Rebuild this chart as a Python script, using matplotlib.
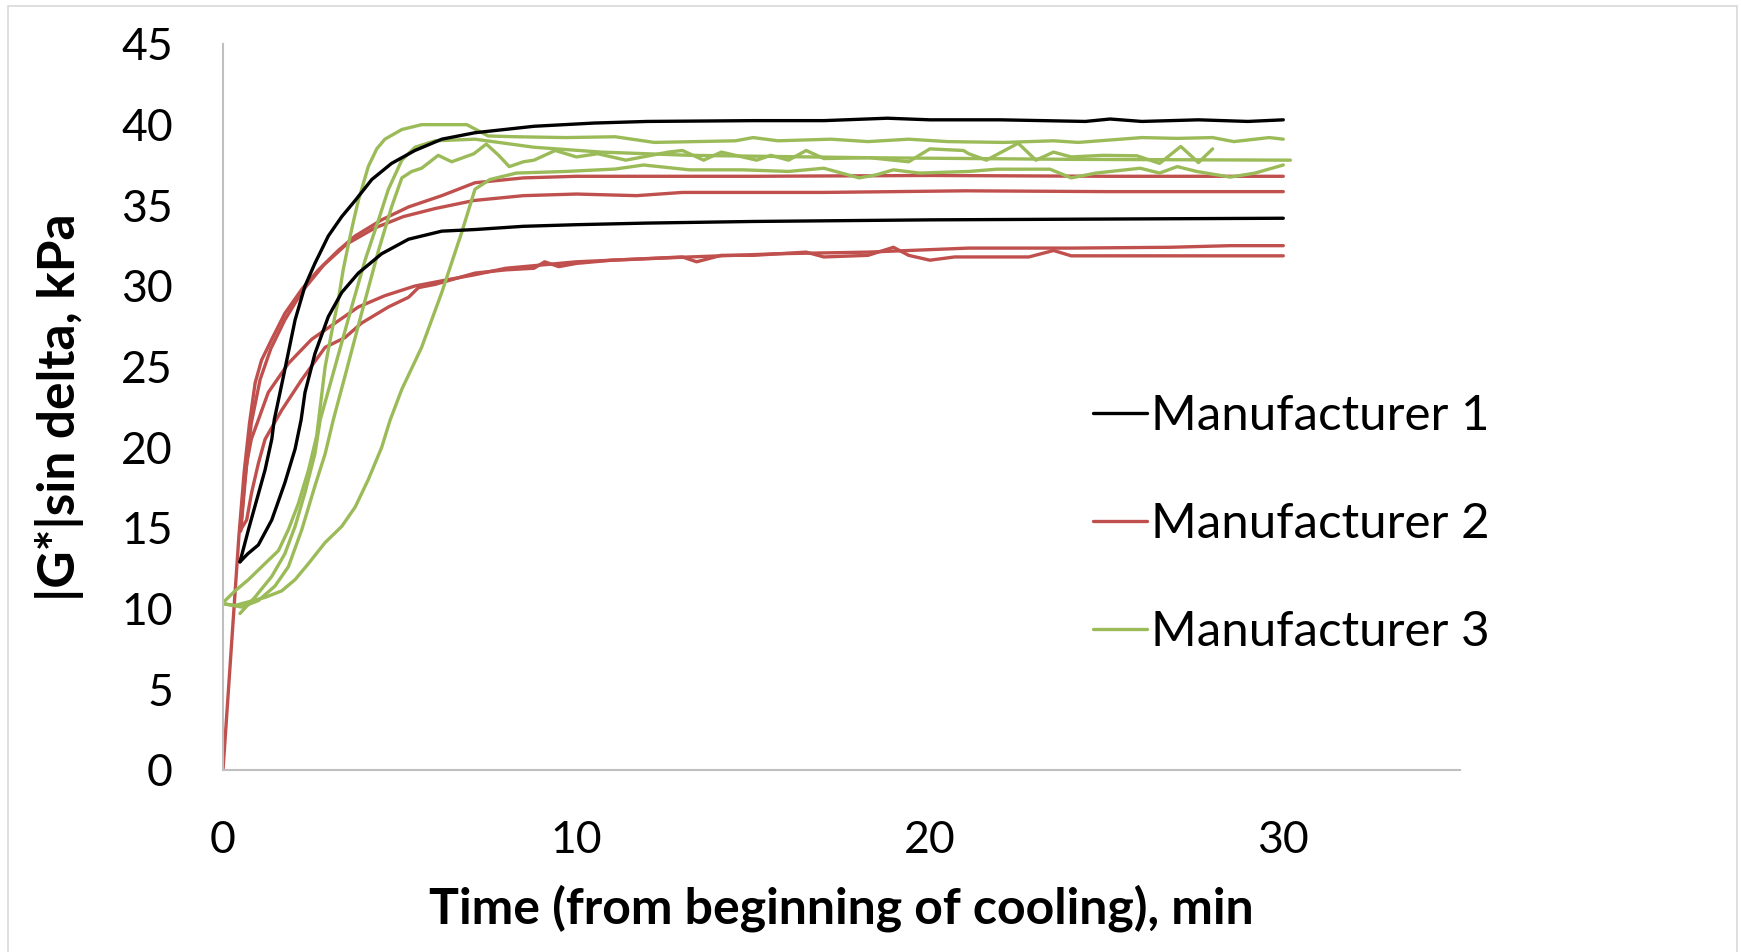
import matplotlib
matplotlib.use("Agg")
import matplotlib.pyplot as plt
from matplotlib.patches import Rectangle

# |G*|sin(delta) during cooling, three manufacturers, replicate runs each
m1a_t = [0.48, 0.72, 1.19, 1.38, 1.45, 1.71, 2.04, 2.32, 2.60, 2.98, 3.36, 3.74, 4.21, 4.77,
         5.43, 6.19, 7.13, 8.8, 10.5, 12, 15, 17, 18.8, 20, 22, 24.4, 25.1, 26, 27.6, 29, 30]
m1a_v = [12.9, 14.9, 18.6, 20.5, 21.7, 24.4, 27.9, 30.0, 31.4, 33.1, 34.3, 35.3, 36.6, 37.6,
         38.4, 39.1, 39.5, 39.9, 40.1, 40.2, 40.25, 40.25, 40.4, 40.3, 40.3, 40.2, 40.35, 40.2,
         40.3, 40.2, 40.3]

m1b_t = [0.48, 0.7, 1.0, 1.38, 1.75, 2.04, 2.21, 2.32, 2.6, 2.98, 3.36, 3.83, 4.49, 5.25, 6.19,
         7.13, 8.5, 10, 12, 15, 20, 25, 30]
m1b_v = [12.9, 13.4, 13.95, 15.5, 17.8, 19.9, 21.7, 23.4, 25.8, 28.1, 29.6, 30.8, 32.0, 32.9,
         33.4, 33.5, 33.7, 33.8, 33.9, 34.0, 34.1, 34.15, 34.2]

m2a_t = [0, 0.45, 0.6, 0.75, 0.91, 1.09, 1.38, 1.75, 2.23, 2.7, 3.26, 3.74, 4.49, 5.25, 6.19,
         7.13, 8.5, 10, 15, 20, 25, 30]
m2a_v = [0, 14.5, 18.5, 21.5, 24.0, 25.4, 26.7, 28.3, 29.8, 31.0, 32.2, 33.1, 34.1, 34.9, 35.6,
         36.4, 36.7, 36.8, 36.8, 36.85, 36.8, 36.8]

m2b_t = [0.5, 0.65, 0.8, 1.05, 1.35, 1.75, 2.25, 2.85, 3.5, 4.3, 5.1, 6.0, 7.1, 8.5, 10, 11.7,
         13, 17, 21, 25, 30]
m2b_v = [14.8, 18.5, 21.5, 24.2, 26.1, 27.9, 29.7, 31.3, 32.6, 33.6, 34.3, 34.8, 35.3, 35.6,
         35.7, 35.6, 35.8, 35.8, 35.9, 35.85, 35.85]

m2c_t = [0.5, 0.6, 0.67, 0.8, 1.0, 1.28, 1.85, 2.51, 3.17, 3.83, 4.58, 5.43, 6.38, 7.13, 8, 9,
         10, 11, 13.2, 15.7, 18.25, 21.1, 24, 26.8, 28.5, 30]
m2c_v = [14.9, 17.6, 19.0, 20.5, 21.7, 23.4, 25.2, 26.7, 27.7, 28.7, 29.4, 30.0, 30.4, 30.7,
         31.1, 31.3, 31.5, 31.6, 31.8, 32.0, 32.1, 32.35, 32.35, 32.4, 32.5, 32.5]

m2d_t = [0.5, 0.67, 0.81, 1.0, 1.19, 1.66, 2.23, 2.89, 3.45, 3.92, 4.68, 5.25, 5.53, 6.0, 7.13,
         8, 8.8, 9.1, 9.5, 10, 11, 12, 13, 13.4, 14.1, 15, 16.5, 17, 18.25, 18.97, 19.4, 20.0,
         20.7, 22.8, 23.5, 24.0, 26, 28, 30]
m2d_v = [14.9, 15.5, 17.2, 19.0, 20.5, 22.3, 24.2, 26.2, 26.8, 27.7, 28.7, 29.3, 29.9, 30.1,
         30.8, 31.0, 31.1, 31.5, 31.2, 31.4, 31.6, 31.7, 31.8, 31.5, 31.9, 31.9, 32.1, 31.8,
         31.9, 32.4, 31.9, 31.6, 31.8, 31.8, 32.2, 31.87, 31.87, 31.87, 31.87]

m3a_t = [0.06, 0.34, 0.72, 1.19, 1.57, 1.85, 2.13, 2.42, 2.65, 2.89, 3.08, 3.26, 3.4, 3.55, 3.7,
         3.83, 4.11, 4.35, 4.58, 5.06, 5.62, 6.19, 6.9, 7.5, 8.3, 9.7, 11.1, 12.2, 14.5, 15.0,
         15.7, 17.2, 18.25, 19.4, 20.5, 22.1, 23.5, 24.2, 26.0, 27.0, 28.0, 28.6, 29.6, 30]
m3a_v = [10.5, 11.1, 11.8, 12.8, 13.6, 14.9, 16.5, 18.6, 20.7, 25.0, 27.2, 29.1, 31.0, 32.6,
         34.1, 35.3, 37.4, 38.5, 39.1, 39.7, 40.0, 40.0, 40.0, 39.3, 39.25, 39.2, 39.25, 38.9,
         39.0, 39.2, 39.0, 39.1, 38.95, 39.1, 38.95, 38.9, 39.0, 38.9, 39.2, 39.15, 39.2, 38.95,
         39.2, 39.1]

m3b_t = [0.48, 0.9, 1.38, 1.75, 2.04, 2.32, 2.6, 2.75, 3.17, 3.64, 4.02, 4.4, 4.68, 5.06, 5.43,
         6.0, 7.13, 7.8, 8.8, 10.7, 13.2, 18.3, 24, 30.2]
m3b_v = [9.7, 10.7, 12.0, 13.4, 15.1, 17.2, 19.6, 21.7, 25.0, 28.7, 31.6, 34.1, 36.0, 37.8,
         38.6, 39.0, 39.1, 38.9, 38.6, 38.3, 38.1, 37.95, 37.85, 37.8]

m3c_t = [0.03, 0.53, 1.0, 1.47, 1.85, 2.23, 2.6, 2.89, 3.12, 3.45, 3.92, 4.4, 4.77, 5.06, 5.34,
         5.62, 6.09, 6.47, 7.1, 7.45, 7.8, 8.1, 8.5, 8.8, 9.4, 10.0, 10.6, 11.4, 12.6, 13.0,
         13.6, 14.1, 15.1, 15.5, 16.0, 16.5, 17.0, 18.3, 19.4, 20.0, 20.95, 21.1, 21.6, 22.5,
         23.0, 23.5, 24.0, 24.9, 25.86, 26.5, 27.1, 27.6, 28.0]
m3c_v = [10.3, 10.1, 10.5, 11.4, 12.6, 14.9, 17.6, 19.6, 21.7, 24.4, 28.3, 32.2, 34.9, 36.7,
         37.1, 37.3, 38.1, 37.7, 38.2, 38.8, 38.1, 37.4, 37.7, 37.8, 38.4, 38.0, 38.2, 37.8,
         38.3, 38.4, 37.8, 38.3, 37.8, 38.1, 37.8, 38.4, 37.9, 37.95, 37.7, 38.5, 38.4, 38.2,
         37.8, 38.85, 37.8, 38.3, 38.0, 38.1, 38.07, 37.6, 38.65, 37.65, 38.5]

m3d_t = [0.03, 0.34, 1.19, 1.66, 2.04, 2.42, 2.89, 3.36, 3.74, 4.11, 4.49, 4.73, 5.06, 5.62,
         6.19, 6.75, 7.13, 7.55, 8.3, 9.7, 11.1, 11.9, 13.2, 14.7, 16.0, 17.0, 18.0, 18.5,
         18.97, 19.7, 21.1, 21.9, 23.4, 24.0, 24.7, 25.95, 26.5, 27.0, 27.55, 28.5, 29.2, 30.0]
m3d_v = [10.3, 10.2, 10.7, 11.1, 11.8, 12.8, 14.1, 15.1, 16.3, 18.0, 20.0, 21.7, 23.6, 26.2,
         29.6, 33.3, 36.0, 36.6, 37.0, 37.1, 37.25, 37.5, 37.2, 37.2, 37.1, 37.3, 36.7, 36.9,
         37.2, 37.0, 37.1, 37.24, 37.24, 36.7, 37.0, 37.3, 37.0, 37.4, 37.1, 36.75, 37.0, 37.5]

series = {
    "Manufacturer 1": [(m1a_t, m1a_v), (m1b_t, m1b_v)],
    "Manufacturer 2": [(m2a_t, m2a_v), (m2b_t, m2b_v), (m2c_t, m2c_v), (m2d_t, m2d_v)],
    "Manufacturer 3": [(m3a_t, m3a_v), (m3b_t, m3b_v), (m3c_t, m3c_v), (m3d_t, m3d_v)],
}
colors = {"Manufacturer 1": "#000000", "Manufacturer 2": "#C0504D", "Manufacturer 3": "#9BBB59"}

x_ticks = [0, 10, 20, 30]
y_ticks = list(range(0, 46, 5))

plt.rcParams["font.family"] = ["Lato", "DejaVu Sans"]

W, H = 1741, 952
fig = plt.figure(figsize=(W / 100, H / 100), dpi=100)
ax = fig.add_axes([223 / W, 1 - 770 / H, (1460 - 223) / W, (770 - 44) / H])

# light outer frame around the chart area
fig.patches.append(Rectangle((8 / W, -0.01), (1737 - 8) / W, 1.01 - 6 / H,
                             transform=fig.transFigure, fill=False,
                             ec="#D9D9D9", lw=1.2, zorder=0))

# Manufacturer 2 first, then 3, black on top
for name in ["Manufacturer 2", "Manufacturer 3", "Manufacturer 1"]:
    for i, (t, v) in enumerate(series[name]):
        ax.plot(t, v, color=colors[name], lw=2.4, solid_capstyle="round",
                solid_joinstyle="round", label=name if i == 0 else None)

ax.set_xlim(0, 35)
ax.set_ylim(0, 45)
ax.set_xticks(x_ticks)
ax.set_yticks(y_ticks)
for s in ["top", "right"]:
    ax.spines[s].set_visible(False)
for s in ["left", "bottom"]:
    ax.spines[s].set_color("#BFBFBF")
    ax.spines[s].set_linewidth(1.5)
ax.tick_params(length=0, labelsize=32, pad=36)

ax.set_xlabel("Time (from beginning of cooling), min", fontsize=36, fontweight="bold",
              va="top")
ax.xaxis.set_label_coords(0.5, (770 - 884) / 726)
ax.set_ylabel("|G*|sin delta, kPa", fontsize=37, fontweight="bold")
ax.yaxis.set_label_coords((84 - 223) / 1237, 0.5)

handles, labels = ax.get_legend_handles_labels()
order = [labels.index(n) for n in ["Manufacturer 1", "Manufacturer 2", "Manufacturer 3"]]
ax.legend([handles[i] for i in order], [labels[i] for i in order],
          loc="upper left", bbox_to_anchor=(1093 / W, 1 - 394 / H),
          bbox_transform=fig.transFigure, frameon=False, fontsize=35.5,
          handlelength=1.1, handletextpad=0.08, labelspacing=1.3,
          borderpad=0, borderaxespad=0)

fig.savefig("out.png", dpi=100)
